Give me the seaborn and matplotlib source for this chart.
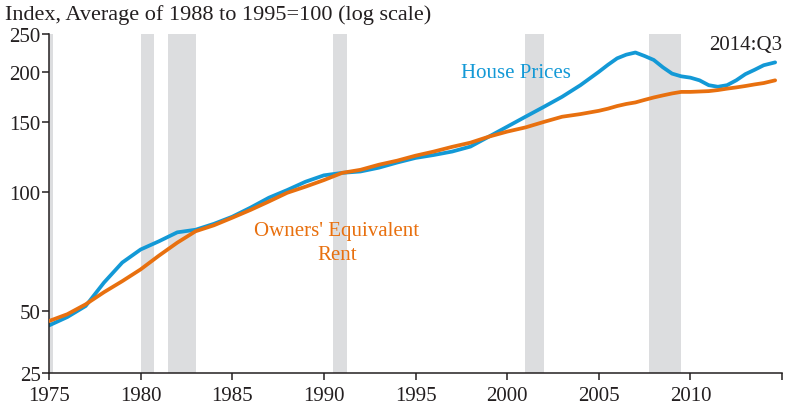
import numpy as np
import pandas as pd
import matplotlib
matplotlib.use('Agg')
import matplotlib.pyplot as plt
from matplotlib.ticker import NullLocator
import seaborn as sns

# Quarterly-ish readings (index, 1988-1995 avg = 100)
years = [1975, 1976, 1977, 1978, 1979, 1980, 1981, 1982, 1983, 1984,
         1985, 1986, 1987, 1988, 1989, 1990, 1991, 1992, 1993, 1994,
         1995, 1996, 1997, 1998, 1999, 2000, 2001, 2002, 2003, 2004,
         2005, 2005.5, 2006, 2006.5, 2007, 2007.5, 2008, 2008.5, 2009, 2009.5,
         2010, 2010.5, 2011, 2011.5, 2012, 2012.5, 2013, 2013.5, 2014, 2014.625]

house_prices = [46.0, 48.3, 51.5, 59.0, 66.3, 71.5, 75.0, 79.0, 80.2, 83.0,
                86.5, 91.2, 96.6, 101.0, 106.0, 110.0, 111.6, 112.5, 115.0, 118.5,
                121.7, 123.8, 126.3, 130.0, 137.7, 145.9, 154.6, 163.7, 173.6, 185.7,
                200.6, 209.0, 217.0, 221.7, 224.5, 220.0, 215.0, 206.0, 198.6, 195.5,
                194.0, 191.0, 185.7, 184.0, 185.7, 191.0, 198.0, 203.0, 208.5, 212.0]

owners_rent = [47.2, 49.1, 52.0, 55.8, 59.5, 63.7, 69.0, 74.4, 79.5, 82.3,
               86.0, 90.0, 94.5, 99.4, 103.0, 107.0, 111.6, 113.6, 117.0, 119.8,
               123.3, 126.3, 129.8, 133.0, 137.7, 141.8, 145.3, 150.0, 154.6, 157.0,
               160.0, 162.0, 164.5, 166.5, 168.0, 170.5, 172.9, 175.0, 177.0, 178.6,
               178.6, 179.0, 179.4, 180.5, 182.0, 183.3, 184.8, 186.5, 188.0, 191.0]

# NBER recessions (start, end)
recessions = [(1973.9, 1975.2), (1980.0, 1980.75), (1981.5, 1983.0),
              (1990.5, 1991.25), (2001.0, 2002.0), (2007.75, 2009.5)]

y_ticks = [34.9, 50, 100, 150, 200, 250]
y_labels = ['25', '50', '100', '150', '200', '250']
x_ticks = [1975, 1980, 1985, 1990, 1995, 2000, 2005, 2010, 2015]
x_labels = ['1975', '1980', '1985', '1990', '1995', '2000', '2005', '2010', '']

df = pd.DataFrame({'year': years, 'House Prices': house_prices,
                   "Owners' Equivalent Rent": owners_rent})

sns.set_theme(style='white')
plt.rcParams['font.family'] = ['Liberation Serif', 'DejaVu Serif']

blue = '#1399d6'
orange = '#e8700f'
text_col = '#231f20'

fig = plt.figure(figsize=(7.85, 4.14), dpi=100)
ax = fig.add_axes([0.0624, 0.0966, 0.9338, 0.8189])

for start, end in recessions:
    ax.axvspan(start, end, color='#dcdddf', lw=0, zorder=0)

sns.lineplot(data=df, x='year', y="Owners' Equivalent Rent", color=orange,
             lw=2.7, ax=ax, zorder=3)
sns.lineplot(data=df, x='year', y='House Prices', color=blue,
             lw=2.7, ax=ax, zorder=2)

ax.set_yscale('log')
ax.set_ylim(34.9, 250)
ax.set_xlim(1975, 2015)
ax.yaxis.set_minor_locator(NullLocator())
ax.set_yticks(y_ticks)
ax.set_yticklabels(y_labels)
ax.set_xticks(x_ticks)
ax.set_xticklabels(x_labels)
ax.set_xlabel('')
ax.set_ylabel('')

for side in ['top', 'right']:
    ax.spines[side].set_visible(False)
for side in ['left', 'bottom']:
    ax.spines[side].set_color(text_col)
    ax.spines[side].set_linewidth(1.1)

ax.tick_params(axis='both', which='major', direction='out', length=5,
               width=1.1, color=text_col, labelcolor=text_col, labelsize=15,
               left=True, bottom=True)
ax.tick_params(axis='y', pad=1)
ax.tick_params(axis='x', pad=4)

fig.text(0.006, 0.963, 'Index, Average of 1988 to 1995=100 (log scale)',
         fontsize=16, color=text_col, ha='left', va='center')
ax.text(2015, 235, '2014:Q3', fontsize=15, color=text_col, ha='right', va='center')
ax.text(2000.5, 200, 'House Prices', fontsize=15, color=blue, ha='center', va='center')
ax.text(1990.7, 74.5, "Owners' Equivalent\nRent", fontsize=15, color=orange,
        ha='center', va='center', linespacing=1.4)

fig.savefig('out.png', dpi=100)
